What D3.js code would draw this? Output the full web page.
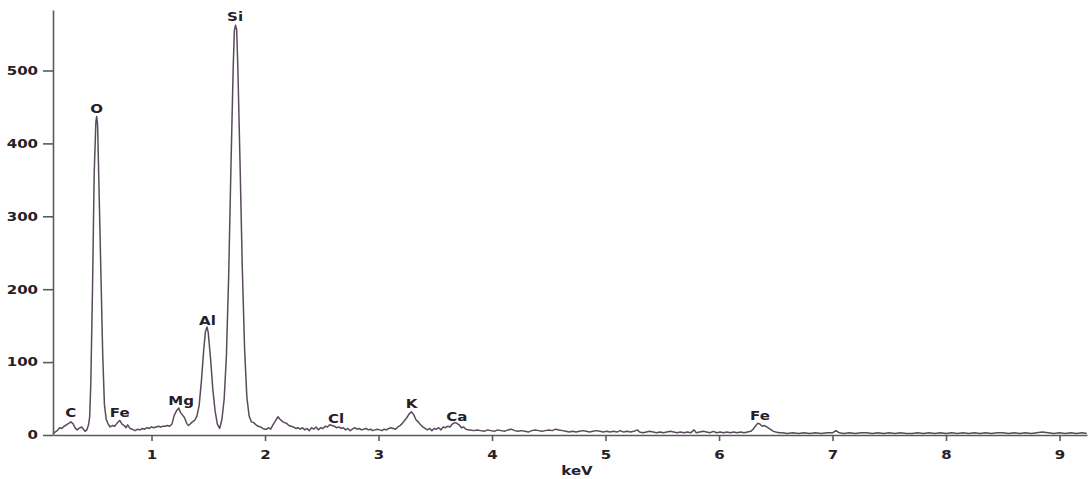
<!DOCTYPE html>
<html>
<head>
<meta charset="utf-8">
<script src="https://cdn.jsdelivr.net/npm/d3@7"></script>
<style>
  html, body { margin: 0; padding: 0; background: #fff; }
  svg { display: block; }
  text { font-family: "DejaVu Sans", Verdana, sans-serif; font-weight: bold; fill: #262026; }
</style>
</head>
<body>
<svg id="chart" width="1089" height="479"></svg>
<script>
// EDS spectrum: [energy (keV), counts]
const spectrum = [
  [0.132, 2], [0.15, 4], [0.17, 6], [0.19, 10], [0.21, 9], [0.23, 12], [0.25, 14], [0.27, 16],
  [0.29, 18], [0.31, 15], [0.33, 9], [0.345, 7], [0.36, 9], [0.385, 11], [0.40, 8], [0.415, 5],
  [0.43, 7], [0.445, 14], [0.455, 25], [0.465, 70], [0.48, 200], [0.495, 360], [0.51, 430],
  [0.517, 437], [0.525, 425], [0.54, 320], [0.555, 215], [0.57, 110], [0.585, 42], [0.60, 22],
  [0.615, 16], [0.635, 11], [0.655, 13], [0.675, 12], [0.695, 16], [0.72, 20], [0.74, 15],
  [0.76, 13], [0.775, 10], [0.79, 14], [0.81, 9], [0.83, 8], [0.855, 6], [0.88, 8], [0.90, 7],
  [0.92, 9], [0.94, 8], [0.96, 10], [0.98, 9], [1.00, 11], [1.02, 10], [1.04, 11], [1.06, 12],
  [1.08, 11], [1.10, 12], [1.12, 12], [1.14, 13], [1.16, 12], [1.18, 15], [1.20, 27], [1.22, 33],
  [1.24, 37], [1.255, 31], [1.27, 28], [1.29, 24], [1.31, 16], [1.325, 13], [1.34, 15], [1.36, 18],
  [1.38, 20], [1.40, 26], [1.42, 41], [1.44, 75], [1.46, 117], [1.475, 142], [1.49, 148],
  [1.50, 140], [1.52, 105], [1.54, 63], [1.56, 33], [1.58, 15], [1.60, 9], [1.62, 21], [1.64, 49],
  [1.66, 109], [1.68, 220], [1.70, 369], [1.72, 506], [1.73, 555], [1.74, 562], [1.75, 556],
  [1.76, 508], [1.78, 372], [1.80, 228], [1.82, 118], [1.84, 52], [1.86, 26], [1.88, 18],
  [1.90, 17], [1.92, 14], [1.94, 12], [1.96, 11], [1.98, 9], [2.00, 8], [2.015, 8], [2.03, 10],
  [2.05, 8], [2.07, 14], [2.09, 19], [2.115, 25], [2.13, 22], [2.15, 19], [2.17, 17], [2.19, 16],
  [2.21, 13], [2.23, 12], [2.25, 11], [2.27, 9], [2.29, 10], [2.31, 8], [2.33, 10], [2.35, 7],
  [2.37, 9], [2.39, 6], [2.41, 10], [2.43, 8], [2.45, 11], [2.47, 7], [2.49, 10], [2.51, 9],
  [2.53, 12], [2.55, 11], [2.57, 14], [2.59, 13], [2.61, 12], [2.63, 10], [2.65, 11], [2.67, 9],
  [2.69, 10], [2.71, 7], [2.73, 9], [2.75, 6], [2.77, 8], [2.79, 10], [2.81, 8], [2.83, 9],
  [2.85, 7], [2.87, 8], [2.89, 9], [2.91, 7], [2.93, 8], [2.95, 6], [2.97, 7], [2.99, 8],
  [3.01, 7], [3.03, 6], [3.05, 8], [3.07, 7], [3.09, 9], [3.11, 10], [3.13, 9], [3.15, 8],
  [3.17, 11], [3.19, 13], [3.21, 16], [3.23, 20], [3.25, 24], [3.27, 29], [3.29, 32], [3.31, 28],
  [3.33, 21], [3.35, 18], [3.37, 14], [3.39, 11], [3.41, 9], [3.43, 7], [3.45, 9], [3.47, 6],
  [3.49, 9], [3.51, 8], [3.53, 10], [3.55, 7], [3.57, 11], [3.59, 10], [3.61, 12], [3.63, 11],
  [3.65, 15], [3.67, 17], [3.69, 16], [3.71, 14], [3.73, 10], [3.75, 11], [3.77, 8], [3.79, 7],
  [3.81, 7], [3.84, 6], [3.87, 7], [3.90, 6], [3.93, 5], [3.96, 7], [3.99, 6], [4.02, 5],
  [4.05, 7], [4.08, 6], [4.11, 5], [4.14, 7], [4.17, 8], [4.20, 6], [4.23, 5], [4.26, 6],
  [4.29, 5], [4.32, 4], [4.35, 6], [4.38, 7], [4.41, 6], [4.44, 5], [4.47, 6], [4.50, 7],
  [4.53, 6], [4.56, 8], [4.59, 7], [4.62, 6], [4.65, 5], [4.68, 4], [4.71, 5], [4.74, 4],
  [4.77, 5], [4.80, 6], [4.83, 5], [4.86, 4], [4.89, 5], [4.92, 6], [4.95, 5], [4.98, 4],
  [5.01, 5], [5.04, 4], [5.07, 5], [5.10, 4], [5.13, 6], [5.16, 4], [5.19, 5], [5.22, 4],
  [5.25, 5], [5.28, 7], [5.30, 4], [5.33, 3], [5.36, 4], [5.39, 5], [5.42, 4], [5.45, 3],
  [5.48, 4], [5.51, 3], [5.54, 4], [5.57, 5], [5.60, 4], [5.63, 3], [5.66, 4], [5.69, 3],
  [5.72, 4], [5.75, 3], [5.78, 7], [5.80, 3], [5.83, 4], [5.86, 5], [5.89, 4], [5.92, 3],
  [5.95, 5], [5.98, 3], [6.01, 4], [6.04, 3], [6.07, 4], [6.10, 3], [6.13, 4], [6.16, 3],
  [6.19, 4], [6.22, 3], [6.25, 4], [6.28, 5], [6.30, 8], [6.32, 12], [6.34, 16], [6.36, 15],
  [6.38, 12], [6.40, 13], [6.42, 11], [6.44, 9], [6.46, 7], [6.48, 5], [6.50, 4], [6.53, 3],
  [6.56, 3], [6.60, 2], [6.65, 3], [6.70, 2], [6.75, 3], [6.80, 2], [6.85, 3], [6.90, 2],
  [6.95, 3], [7.00, 3], [7.03, 6], [7.06, 3], [7.10, 2], [7.15, 3], [7.20, 2], [7.25, 3],
  [7.30, 3], [7.35, 2], [7.40, 3], [7.45, 2], [7.50, 3], [7.55, 2], [7.60, 3], [7.65, 2],
  [7.70, 2], [7.75, 3], [7.80, 2], [7.85, 3], [7.90, 2], [7.95, 3], [8.00, 2], [8.05, 3],
  [8.10, 2], [8.15, 3], [8.20, 2], [8.25, 3], [8.30, 2], [8.35, 3], [8.40, 2], [8.45, 3],
  [8.50, 3], [8.55, 2], [8.60, 3], [8.65, 2], [8.70, 3], [8.75, 2], [8.80, 3], [8.85, 4],
  [8.90, 3], [8.95, 2], [9.00, 3], [9.05, 2], [9.10, 3], [9.15, 2], [9.20, 3], [9.24, 2]
];

// Element labels and where they sit (energy in keV, height in counts of the label baseline)
const elementNames  = ["C", "O", "Fe", "Mg", "Al", "Si", "Cl", "K", "Ca", "Fe"];
const elementKeV    = [0.288, 0.517, 0.72, 1.26, 1.493, 1.736, 2.626, 3.292, 3.689, 6.361];
const elementLabelY = [25, 442, 25, 41, 151, 568, 17, 37, 19, 20];

const xTicks = [1, 2, 3, 4, 5, 6, 7, 8, 9];
const yTicks = [0, 100, 200, 300, 400, 500];
const xDomain = [0.132, 9.242];
const yDomain = [0, 583];

const svg = d3.select("#chart");
const plotLeft = 53, plotRight = 1087, plotTop = 10, plotBottom = 435;
const textStretch = 1.25;   // glyphs are drawn wide
const fontSize = "12px";

const x = d3.scaleLinear().domain(xDomain).range([plotLeft, plotRight]);
const y = d3.scaleLinear().domain(yDomain).range([plotBottom, plotTop]);

// spectrum trace
svg.append("path")
  .datum(spectrum)
  .attr("fill", "none")
  .attr("stroke", "#5a4b5c")
  .attr("stroke-width", 1.5)
  .attr("stroke-linejoin", "round")
  .attr("d", d3.line().x(d => x(d[0])).y(d => y(d[1])));

// axes
const axisColor = "#5a5a5a";
const gx = svg.append("g")
  .attr("transform", `translate(0,${plotBottom})`)
  .call(d3.axisBottom(x).tickValues(xTicks).tickSize(6).tickSizeOuter(0).tickPadding(9));
const gy = svg.append("g")
  .attr("transform", `translate(${plotLeft},0)`)
  .call(d3.axisLeft(y).tickValues(yTicks).tickSize(10).tickSizeOuter(0).tickPadding(5));

[gx, gy].forEach(g => {
  g.select(".domain").attr("stroke", axisColor).attr("stroke-width", 1.6);
  g.selectAll(".tick line").attr("stroke", axisColor).attr("stroke-width", 1.6);
  g.selectAll(".tick text")
    .attr("fill", "#262026")
    .style("font-size", fontSize)
    .style("font-family", "'DejaVu Sans', Verdana, sans-serif")
    .style("font-weight", "bold");
});
gx.selectAll(".tick text").attr("transform", `scale(${textStretch},1)`);
gy.selectAll(".tick text")
  .attr("x", -15 / textStretch)
  .attr("transform", `scale(${textStretch},1)`);

// axis title
svg.append("text")
  .attr("transform", `translate(577,475) scale(${textStretch},1)`)
  .attr("text-anchor", "middle")
  .style("font-size", fontSize)
  .text("keV");

// element labels above their peaks
svg.append("g").selectAll("text")
  .data(elementNames)
  .join("text")
  .attr("transform", (d, i) => `translate(${x(elementKeV[i])},${y(elementLabelY[i])}) scale(${textStretch},1)`)
  .attr("text-anchor", "middle")
  .style("font-size", fontSize)
  .text(d => d);
</script>
</body>
</html>
